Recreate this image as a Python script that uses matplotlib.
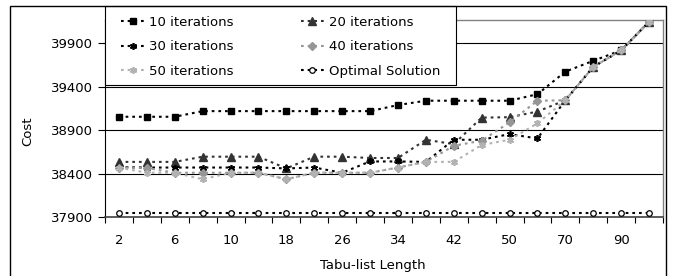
import matplotlib
matplotlib.use("Agg")
import matplotlib.pyplot as plt
from matplotlib.patches import Rectangle

plt.rcParams['font.family'] = ['DejaVu Sans']

# tabu-list lengths (only every other one gets a label)
lengths = ["2", "4", "6", "8", "10", "14", "18", "22", "26", "30",
           "34", "38", "42", "46", "50", "60", "70", "80", "90", "100"]

it10 = [39055, 39055, 39055, 39120, 39120, 39120, 39120, 39120, 39120, 39120,
        39190, 39240, 39240, 39240, 39240, 39315, 39575, 39700, 39820, 40150]
it20 = [38535, 38535, 38535, 38595, 38595, 38595, 38460, 38595, 38595, 38580,
        38580, 38790, 38740, 39045, 39050, 39115, 39245, 39630, 39820, 40150]
it30 = [38475, 38470, 38470, 38470, 38470, 38470, 38460, 38470, 38410, 38540,
        38540, 38535, 38790, 38790, 38855, 38805, 39245, 39630, 39820, 40150]
it40 = [38470, 38465, 38410, 38410, 38410, 38410, 38335, 38410, 38410, 38410,
        38470, 38535, 38720, 38780, 38990, 39240, 39245, 39630, 39820, 40150]
it50 = [38470, 38410, 38410, 38335, 38410, 38410, 38335, 38410, 38410, 38410,
        38470, 38535, 38535, 38730, 38790, 38980, 39245, 39630, 39820, 40150]
optimal = [37950, 37950, 37950, 37950, 37950, 37950, 37950, 37950, 37950, 37950,
           37950, 37950, 37950, 37950, 37950, 37950, 37950, 37950, 37950, 37950]

yticks = [37900, 38400, 38900, 39400, 39900]

W, H = 674, 276
FS = 9.5
fig = plt.figure(figsize=(W / 100, H / 100), dpi=100)
ax = fig.add_axes([105 / W, 1 - 217 / H, (663 - 105) / W, (217 - 20) / H])

x = list(range(len(lengths)))
dots = (0, (1.3, 1.9))
lw = 1.5

l10, = ax.plot(x, it10, color='black', ls=dots, lw=lw, marker='s', ms=5,
               label='10 iterations', zorder=3)
l20, = ax.plot(x, it20, color='#333333', ls=dots, lw=lw, marker='^', ms=5.5,
               label='20 iterations', zorder=3)
l30, = ax.plot(x, it30, color='black', ls=dots, lw=lw, marker=(6, 2, 0), ms=5,
               mew=1.2, label='30 iterations', zorder=3)
l40, = ax.plot(x, it40, color='#969696', ls=dots, lw=lw, marker='D', ms=4.2,
               label='40 iterations', zorder=3)
l50, = ax.plot(x, it50, color='#b2b2b2', ls=dots, lw=lw, marker=(6, 2, 0), ms=5,
               mew=1.2, label='50 iterations', zorder=3)
lop, = ax.plot(x, optimal, color='black', ls=dots, lw=lw, marker='o', ms=4,
               mfc='white', mec='black', mew=0.9, label='Optimal Solution', zorder=3)

ax.set_xlim(-0.5, len(lengths) - 0.5)
ax.set_ylim(37900, 40170)
ax.set_yticks(yticks)
ax.set_yticklabels([str(v) for v in yticks], fontsize=FS)
ax.tick_params(axis='y', length=5, width=0.8, pad=3.5, direction='out')

ax.set_xticks(x[::2])
ax.set_xticklabels(lengths[::2], fontsize=FS)
ax.set_xticks([i - 0.5 for i in range(len(lengths) + 1)], minor=True)
ax.tick_params(axis='x', which='major', length=0, pad=12)
ax.tick_params(axis='x', which='minor', length=4, width=0.8, direction='out')

for v in yticks[1:]:
    ax.axhline(v, color='black', lw=0.8, zorder=1)

ax.spines['left'].set_color('black')
ax.spines['bottom'].set_color('#404040')
ax.spines['bottom'].set_linewidth(1.2)
for s in ('top', 'right'):
    ax.spines[s].set_color('#808080')
    ax.spines[s].set_linewidth(1.0)

# legend box sits over the top-left of the plot area
ax.add_patch(Rectangle((105 / W, 1 - 85 / H), (456 - 105) / W, (85 - 6) / H,
                       transform=fig.transFigure, facecolor='white',
                       edgecolor='black', lw=0.8, zorder=4, clip_on=False))
leg = ax.legend([l10, l30, l50, l20, l40, lop],
                [h.get_label() for h in [l10, l30, l50, l20, l40, lop]],
                ncol=2, loc='upper left', bbox_to_anchor=(121 / W, 1 - 16 / H),
                bbox_transform=fig.transFigure, frameon=False, fontsize=FS,
                borderpad=0, borderaxespad=0, handlelength=1.75,
                handletextpad=0.38, labelspacing=0.86, columnspacing=5.1)
leg.set_zorder(5)

fig.text(28 / W, 1 - 131 / H, 'Cost', rotation=90, ha='center', va='center',
         fontsize=FS)
fig.text(373 / W, 1 - 265 / H, 'Tabu-list Length', ha='center', va='center',
         fontsize=FS)

# outer chart border
fig.patches.append(Rectangle((10 / W, -0.05), (666 - 10) / W, 1.05 - 6 / H,
                             transform=fig.transFigure, fill=False,
                             edgecolor='black', lw=1.0))

fig.savefig('out.png', dpi=100)
